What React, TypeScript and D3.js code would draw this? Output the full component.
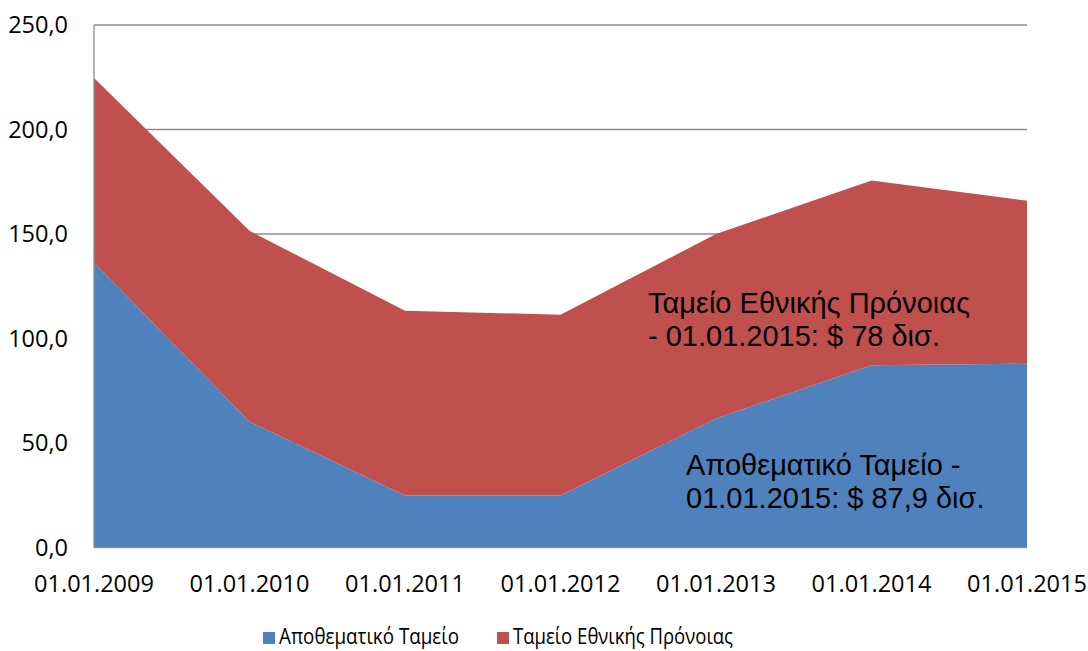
import { useEffect, useRef } from "react";
import * as d3 from "d3";

// Δεδομένα (δισ. $)
const dates = ["01.01.2009", "01.01.2010", "01.01.2011", "01.01.2012", "01.01.2013", "01.01.2014", "01.01.2015"];
const reserveFund = [136.2, 60.2, 24.9, 24.9, 61.7, 87.2, 87.9];
const wealthFund = [88.5, 91.3, 88.4, 86.5, 88.3, 88.4, 78.0];
const seriesNames = ["Αποθεματικό Ταμείο", "Ταμείο Εθνικής Πρόνοιας"];
const seriesColors = ["#4f81bd", "#c0504d"];
const yTicks = [0, 50, 100, 150, 200, 250];

const App = () => {
  const ref = useRef<SVGSVGElement | null>(null);

  useEffect(() => {
    if (!ref.current) return;
    const svg = d3.select(ref.current);
    svg.selectAll("*").remove();

    const margin = { top: 25, right: 61, bottom: 103.5, left: 94 };
    const W = 1088, H = 651;
    const width = W - margin.left - margin.right;
    const height = H - margin.top - margin.bottom;

    const g = svg.append("g").attr("transform", `translate(${margin.left},${margin.top})`);

    const x = d3.scalePoint<string>().domain(dates).range([0, width]);
    const y = d3.scaleLinear().domain([0, 250]).range([height, 0]);

    // Rejilla
    g.append("g")
      .selectAll("line")
      .data(yTicks.filter((d) => d > 0))
      .enter()
      .append("line")
      .attr("x1", 0)
      .attr("x2", width)
      .attr("y1", (d) => y(d))
      .attr("y2", (d) => y(d))
      .attr("stroke", "#8c8c8c")
      .attr("stroke-width", 1.3);

    // Áreas apiladas
    const table = dates.map((d, i) => ({ date: d, a: reserveFund[i], b: wealthFund[i] }));
    const stacked = d3.stack<any>().keys(["a", "b"])(table);

    const area = d3
      .area<any>()
      .x((d) => x(d.data.date) as number)
      .y0((d) => y(d[0]))
      .y1((d) => y(d[1]));

    g.selectAll(".layer")
      .data(stacked)
      .enter()
      .append("path")
      .attr("class", "layer")
      .attr("fill", (_, i) => seriesColors[i])
      .attr("d", area as any);

    // Ejes
    g.append("line")
      .attr("x1", 0).attr("x2", 0)
      .attr("y1", 0).attr("y2", height)
      .attr("stroke", "#8c8c8c").attr("stroke-width", 1.3);
    g.append("line")
      .attr("x1", 0).attr("x2", width)
      .attr("y1", height).attr("y2", height)
      .attr("stroke", "#8c8c8c").attr("stroke-width", 1.3);

    const tickFont = "'Open Sans', 'Noto Sans', sans-serif";

    g.append("g")
      .selectAll("text")
      .data(yTicks)
      .enter()
      .append("text")
      .attr("x", -26)
      .attr("y", (d) => y(d))
      .attr("dy", "0.35em")
      .attr("text-anchor", "end")
      .style("font-family", tickFont)
      .style("font-size", "23.5px")
      .style("fill", "#000")
      .text((d) => d3.format(".1f")(d).replace(".", ","));

    g.append("g")
      .selectAll("text")
      .data(dates)
      .enter()
      .append("text")
      .attr("x", (d) => x(d) as number)
      .attr("y", height + 44)
      .attr("text-anchor", "middle")
      .style("font-family", tickFont)
      .style("font-size", "23.5px")
      .style("fill", "#000")
      .text((d) => d);

    // Anotaciones
    const annFont = "'Liberation Sans', Arial, sans-serif";
    const ann = [
      { lines: ["Ταμείο Εθνικής Πρόνοιας", "- 01.01.2015: $ 78 δισ."], x: 648, y: 313 },
      { lines: ["Αποθεματικό Ταμείο -", "01.01.2015: $ 87,9 δισ."], x: 686, y: 475 },
    ];
    ann.forEach((a) => {
      const t = svg
        .append("text")
        .style("font-family", annFont)
        .style("font-size", "29px")
        .style("fill", "#000");
      a.lines.forEach((l, i) => {
        t.append("tspan").attr("x", a.x).attr("y", a.y + i * 33).text(l);
      });
    });

    // Leyenda
    const legend = svg.append("g").attr("transform", `translate(263, 644)`);
    const offsets = [0, 234];
    const textWidths = [180, 220];
    seriesNames.forEach((name, i) => {
      const item = legend.append("g").attr("transform", `translate(${offsets[i]},0)`);
      item.append("rect").attr("x", 0).attr("y", -12).attr("width", 12).attr("height", 12).attr("fill", seriesColors[i]);
      item
        .append("text")
        .attr("x", 16)
        .attr("y", 0)
        .attr("textLength", textWidths[i])
        .attr("lengthAdjust", "spacingAndGlyphs")
        .style("font-family", tickFont)
        .style("font-size", "21px")
        .style("fill", "#000")
        .text(name);
    });
  }, []);

  return (
    <svg
      ref={ref}
      width={1088}
      height={651}
      style={{ position: "absolute", left: 0, top: 0, background: "#fff" }}
    />
  );
};

export default App;
